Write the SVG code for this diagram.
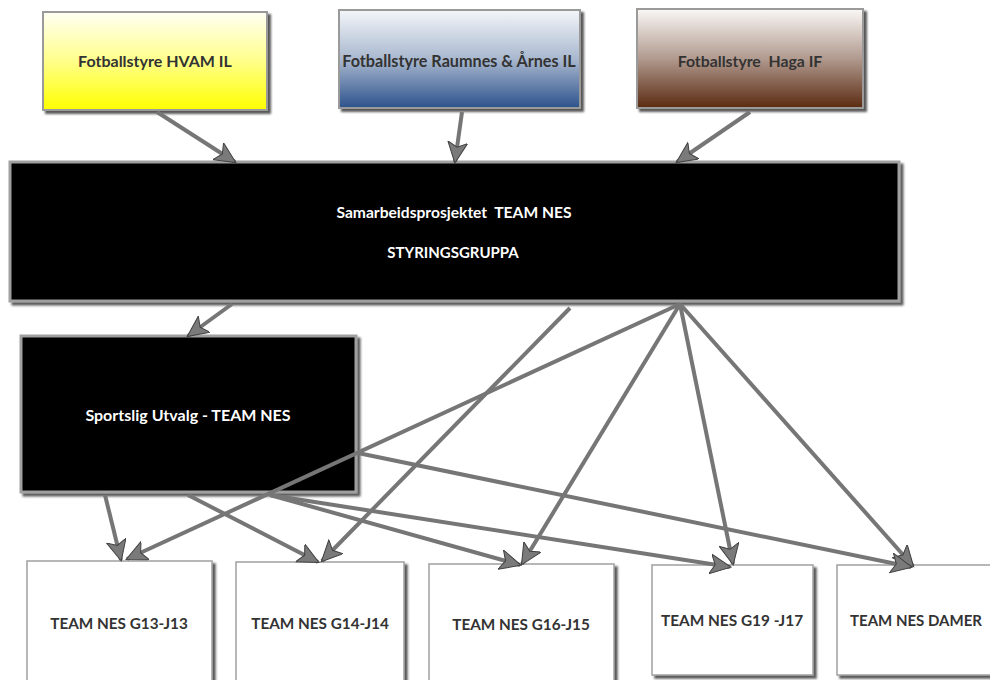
<svg xmlns="http://www.w3.org/2000/svg" width="990" height="680" viewBox="0 0 990 680">
<defs>
<style>
.t{font-family:Lato,"Liberation Sans",sans-serif;font-weight:bold;text-anchor:middle;}
.dk{fill:#333333;}
.wh{fill:#ffffff;}
.box{stroke:#9a9a9a;stroke-width:2;}
.blk{fill:#000000;stroke:#a0a0a0;stroke-width:3;}
.wbox{fill:#ffffff;stroke:#a0a0a0;stroke-width:1.5;}
.con{fill:none;stroke:#767676;stroke-width:4;}
</style>
<linearGradient id="gy" x1="0" y1="0" x2="0" y2="1">
<stop offset="0" stop-color="#fffff4"/>
<stop offset="0.5" stop-color="#ffff8a"/>
<stop offset="1" stop-color="#ffff00"/>
</linearGradient>
<linearGradient id="gb" x1="0" y1="0" x2="0" y2="1">
<stop offset="0" stop-color="#f4f6f9"/>
<stop offset="0.5" stop-color="#a9b8cf"/>
<stop offset="1" stop-color="#2c528c"/>
</linearGradient>
<linearGradient id="gbr" x1="0" y1="0" x2="0" y2="1">
<stop offset="0" stop-color="#fbf8f6"/>
<stop offset="0.5" stop-color="#b19a8f"/>
<stop offset="1" stop-color="#5a2a10"/>
</linearGradient>
<filter id="sh" x="-5%" y="-5%" width="115%" height="120%">
<feDropShadow dx="3" dy="3" stdDeviation="1.2" flood-color="#333333" flood-opacity="0.8"/>
</filter>
<marker id="ah" markerUnits="userSpaceOnUse" markerWidth="24" markerHeight="22" refX="20" refY="10" orient="auto">
<path d="M0,0 L21,10 L0,20 L5,10 Z" fill="#7a7a7a" stroke="#404040" stroke-width="1"/>
</marker>
</defs>

<g id="hvam">
<rect x="43" y="12" width="224" height="98" fill="url(#gy)" class="box" filter="url(#sh)"/>
<text class="t dk" x="155" y="67" font-size="16">Fotballstyre HVAM IL</text>
</g>
<g id="raumnes">
<rect x="339" y="10" width="241" height="98" fill="url(#gb)" class="box" filter="url(#sh)"/>
<text class="t dk" x="459" y="67" font-size="16.2">Fotballstyre Raumnes &amp; Årnes IL</text>
</g>
<g id="haga">
<rect x="637" y="9" width="226" height="99" fill="url(#gbr)" class="box" filter="url(#sh)"/>
<text class="t dk" x="750" y="67" font-size="15.8" xml:space="preserve">Fotballstyre  Haga IF</text>
</g>

<g id="styringsgruppa">
<rect x="10" y="162" width="889" height="139" class="blk" filter="url(#sh)"/>
<text class="t wh" x="454" y="218" font-size="15.6" xml:space="preserve">Samarbeidsprosjektet  TEAM NES</text>
<text class="t wh" x="453" y="258" font-size="15">STYRINGSGRUPPA</text>
</g>

<g id="sportslig">
<rect x="21" y="336" width="335" height="156" class="blk" filter="url(#sh)"/>
<text class="t wh" x="188" y="421" font-size="16">Sportslig Utvalg - TEAM NES</text>
</g>

<g id="g13">
<rect x="27" y="561" width="185" height="130" class="wbox" filter="url(#sh)"/>
<text class="t dk" x="119" y="629" font-size="15.3">TEAM NES G13-J13</text>
</g>
<g id="g14">
<rect x="236" y="562" width="168" height="130" class="wbox" filter="url(#sh)"/>
<text class="t dk" x="320" y="629" font-size="15.3">TEAM NES G14-J14</text>
</g>
<g id="g16">
<rect x="429" y="564" width="185" height="130" class="wbox" filter="url(#sh)"/>
<text class="t dk" x="521" y="630" font-size="15.3">TEAM NES G16-J15</text>
</g>
<g id="g19">
<rect x="652" y="565" width="161" height="110" class="wbox" filter="url(#sh)"/>
<text class="t dk" x="732" y="626" font-size="15.4">TEAM NES G19 -J17</text>
</g>
<g id="damer">
<rect x="837" y="565" width="170" height="110" class="wbox" filter="url(#sh)"/>
<text class="t dk" x="916" y="626" font-size="15">TEAM NES DAMER</text>
</g>

<g id="connectors">
<line class="con" x1="157" y1="112" x2="235" y2="162" marker-end="url(#ah)"/>
<line class="con" x1="462" y1="112" x2="455" y2="162" marker-end="url(#ah)"/>
<line class="con" x1="750" y1="112" x2="677" y2="162" marker-end="url(#ah)"/>
<line class="con" x1="232" y1="304" x2="188" y2="336" marker-end="url(#ah)"/>
<line class="con" x1="680" y1="304" x2="127" y2="559" marker-end="url(#ah)"/>
<line class="con" x1="570" y1="308" x2="322" y2="561" marker-end="url(#ah)"/>
<line class="con" x1="680" y1="304" x2="522" y2="564" marker-end="url(#ah)"/>
<line class="con" x1="680" y1="304" x2="733" y2="564" marker-end="url(#ah)"/>
<line class="con" x1="680" y1="304" x2="913" y2="566" marker-end="url(#ah)"/>
<line class="con" x1="105" y1="495" x2="121" y2="560" marker-end="url(#ah)"/>
<line class="con" x1="188" y1="495" x2="318" y2="562" marker-end="url(#ah)"/>
<line class="con" x1="270" y1="495" x2="520" y2="565" marker-end="url(#ah)"/>
<line class="con" x1="270" y1="495" x2="730" y2="567" marker-end="url(#ah)"/>
<line class="con" x1="358" y1="453" x2="911" y2="567" marker-end="url(#ah)"/>
</g>
</svg>
